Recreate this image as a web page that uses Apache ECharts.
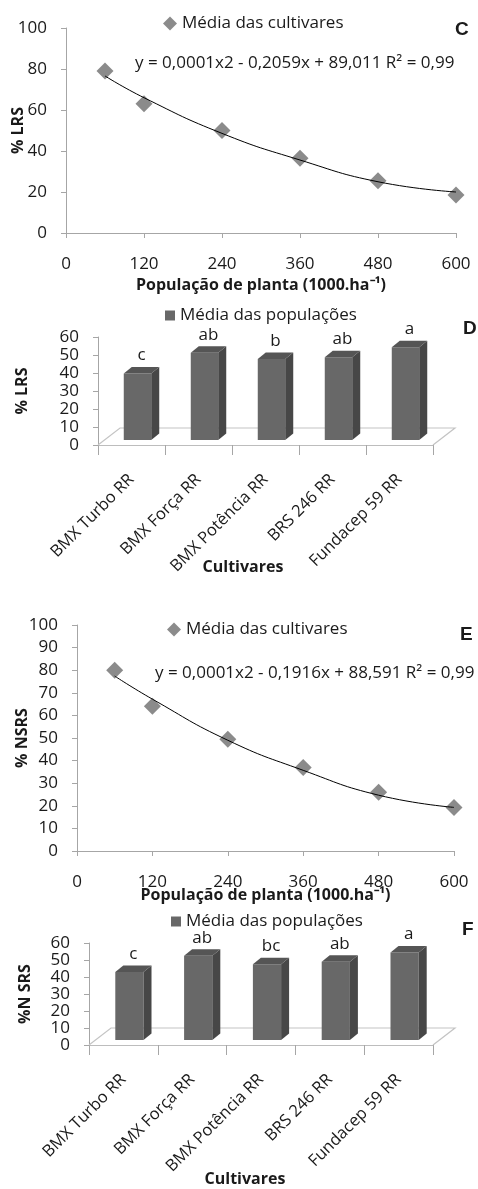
<!DOCTYPE html>
<html>
<head>
<meta charset="utf-8">
<script src="https://cdn.jsdelivr.net/npm/echarts@6/dist/echarts.min.js"></script>
<style>
  html, body { margin: 0; padding: 0; background: #fff; }
  #chart { width: 478px; height: 1189px; }
</style>
</head>
<body>
<div id="chart"></div>
<script>
// valores
const populacoes = [60, 120, 240, 360, 480, 600];
const lrsMedias = [79, 63, 50, 36.5, 25.5, 18.5];
const lrsTendencia = [76.6, 66, 48.6, 35.6, 25, 20];
const nsrsMedias = [80, 64, 49.5, 37, 26, 19.2];
const nsrsTendencia = [77.4, 67.2, 49, 35.7, 24.7, 19.3];

const cultivares = ['BMX Turbo RR', 'BMX Força RR', 'BMX Potência RR', 'BRS 246 RR', 'Fundacep 59 RR'];
const lrsCultivar = [37, 48.5, 45, 46, 51.5];
const lrsLetras = ['c', 'ab', 'b', 'ab', 'a'];
const nsrsCultivar = [40, 49.5, 44.5, 46, 51.5];
const nsrsLetras = ['c', 'ab', 'bc', 'ab', 'a'];

// eixos: [min, max, intervalo]
const popTicks = [0, 600, 120];
const pctTicks = [0, 100, 20];
const pctTicksE = [0, 100, 10];
const barTicks = [0, 60, 10];

const FONT = 'Open Sans';
const TXT = '#1a1a1a';
const AXIS = '#a6a6a6';

const chart = echarts.init(document.getElementById('chart'));

function valueAxis(gridIndex, ticks, extra) {
  return Object.assign({
    type: 'value',
    gridIndex,
    min: ticks[0],
    max: ticks[1],
    interval: ticks[2],
    splitLine: { show: false },
    axisLine: { show: true, lineStyle: { color: AXIS } },
    axisTick: { show: true, length: 5, lineStyle: { color: AXIS } },
    axisLabel: {
      color: TXT, fontFamily: FONT, fontSize: 17, margin: 19, lineHeight: 15,
      hideOverlap: false, showMinLabel: true, showMaxLabel: true,
    },
    nameTextStyle: { color: TXT, fontFamily: FONT, fontSize: 16, fontWeight: 'bold' },
    nameLocation: 'middle',
    nameMoveOverlap: false,
  }, extra);
}

function catAxis(gridIndex) {
  return {
    type: 'category',
    gridIndex,
    data: cultivares,
    axisLine: { show: true, lineStyle: { color: '#bdbdbd' } },
    axisTick: { show: true, length: 10, lineStyle: { color: AXIS } },
    axisLabel: { color: TXT, fontFamily: FONT, fontSize: 16.5, rotate: 45, margin: 32, interval: 0 },
  };
}

const SHIFT = [6, -5];
const DEPTH = [8, -6.5];

function bar3d(letras) {
  return function (params, api) {
    const i = api.value(0);
    const base = api.coord([i, 0]);
    const top = api.coord([i, api.value(1)]);
    const w = api.size([1, 0])[0] * 0.41;
    const x0 = base[0] - w / 2 + SHIFT[0];
    const yb = base[1] + SHIFT[1];
    const yt = top[1] + SHIFT[1];
    const dx = DEPTH[0];
    const dy = DEPTH[1];
    return {
      type: 'group',
      children: [
        { type: 'rect', shape: { x: x0, y: yt, width: w, height: yb - yt }, style: { fill: '#686868' } },
        {
          type: 'polygon',
          shape: { points: [[x0 + w, yt], [x0 + w + dx, yt + dy], [x0 + w + dx, yb + dy], [x0 + w, yb]] },
          style: { fill: '#474747' },
        },
        {
          type: 'polygon',
          shape: { points: [[x0, yt], [x0 + dx, yt + dy], [x0 + w + dx, yt + dy], [x0 + w, yt]] },
          style: { fill: '#555555' },
        },
        {
          type: 'text',
          x: x0 + w / 2 + dx / 2,
          y: yt + dy - 3,
          style: {
            text: letras[params.dataIndex],
            fill: TXT,
            font: '17px "Open Sans"',
            align: 'center',
            verticalAlign: 'bottom',
          },
        },
      ],
    };
  };
}

function floor(params, api) {
  const band = api.size([1, 0])[0];
  const a = api.coord([0, 0]);
  const b = api.coord([cultivares.length - 1, 0]);
  const L = a[0] - band / 2;
  const R = b[0] + band / 2;
  const y = a[1];
  return {
    type: 'polyline',
    shape: { points: [[L, y], [L + 22, y - 17], [R + 22, y - 17], [R, y]] },
    style: { stroke: '#c4c4c4', fill: null, lineWidth: 1.2 },
  };
}

function legend(name, left, top, icon) {
  const l = {
    data: [name],
    left,
    top,
    padding: 0,
    itemWidth: icon === 'rect' ? 10 : 14,
    itemHeight: icon === 'rect' ? 10 : 14,
    itemGap: 5,
    textStyle: { color: TXT, fontFamily: FONT, fontSize: 17 },
  };
  if (icon) l.icon = icon;
  return l;
}

function label(text, x, y, font, align) {
  return {
    type: 'text',
    x,
    y,
    style: { text, fill: TXT, font, align: align || 'left', verticalAlign: 'middle' },
  };
}

const option = {
  animation: false,
  backgroundColor: '#fff',
  grid: [
    { left: 66, top: 28, width: 390, height: 205, outerBoundsMode: 'none' },
    { left: 98, top: 337, width: 335, height: 108, outerBoundsMode: 'none' },
    { left: 77, top: 625, width: 377, height: 226, outerBoundsMode: 'none' },
    { left: 89, top: 943, width: 344, height: 102, outerBoundsMode: 'none' },
  ],
  legend: [
    legend('Média das cultivares', 163, 15),
    legend('Média das populações', 165, 307, 'rect'),
    legend('Média das cultivares', 167, 621),
    legend('Média das populações', 171, 913, 'rect'),
  ],
  xAxis: [
    valueAxis(0, popTicks, {
      name: 'População de planta (1000.ha⁻¹)',
      nameGap: 44,
      axisLabel: { color: TXT, fontFamily: FONT, fontSize: 17, margin: 23 },
    }),
    catAxis(1),
    valueAxis(2, popTicks, {
      name: 'População de planta (1000.ha⁻¹)',
      nameGap: 36,
      axisLabel: { color: TXT, fontFamily: FONT, fontSize: 17, margin: 23 },
    }),
    catAxis(3),
  ],
  yAxis: [
    valueAxis(0, pctTicks, { name: '% LRS', nameGap: 40 }),
    valueAxis(1, barTicks, { name: '% LRS', nameGap: 68 }),
    valueAxis(2, pctTicksE, { name: '% NSRS', nameGap: 47 }),
    valueAxis(3, barTicks, { name: '%N SRS', nameGap: 56 }),
  ],
  graphic: [
    label('y = 0,0001x2 - 0,2059x + 89,011 R² = 0,99', 135, 63, '17px "Open Sans"'),
    label('y = 0,0001x2 - 0,1916x + 88,591 R² = 0,99', 155, 673, '17px "Open Sans"'),
    label('Cultivares', 243, 567, 'bold 16px "Open Sans"', 'center'),
    label('Cultivares', 245, 1179, 'bold 16px "Open Sans"', 'center'),
    label('C', 455, 30, 'bold 19px "Liberation Sans"'),
    label('D', 463, 329, 'bold 19px "Liberation Sans"'),
    label('E', 460, 635, 'bold 19px "Liberation Sans"'),
    label('F', 462, 930, 'bold 19px "Liberation Sans"'),
  ],
  series: [
    {
      type: 'line',
      xAxisIndex: 0,
      yAxisIndex: 0,
      data: populacoes.map((p, i) => [p, lrsTendencia[i]]),
      smooth: true,
      showSymbol: false,
      lineStyle: { color: '#000', width: 1 },
      silent: true,
    },
    {
      name: 'Média das cultivares',
      type: 'scatter',
      xAxisIndex: 0,
      yAxisIndex: 0,
      symbol: 'diamond',
      symbolSize: 17,
      itemStyle: { color: '#6e6e6e' },
      data: populacoes.map((p, i) => [p, lrsMedias[i]]),
    },
    {
      type: 'custom',
      xAxisIndex: 1,
      yAxisIndex: 1,
      clip: false,
      silent: true,
      renderItem: floor,
      data: [[0, 0]],
    },
    {
      name: 'Média das populações',
      type: 'custom',
      xAxisIndex: 1,
      yAxisIndex: 1,
      clip: false,
      itemStyle: { color: '#686868' },
      renderItem: bar3d(lrsLetras),
      encode: { x: 0, y: 1 },
      data: lrsCultivar.map((v, i) => [i, v]),
    },
    {
      type: 'line',
      xAxisIndex: 2,
      yAxisIndex: 2,
      data: populacoes.map((p, i) => [p, nsrsTendencia[i]]),
      smooth: true,
      showSymbol: false,
      lineStyle: { color: '#000', width: 1 },
      silent: true,
    },
    {
      name: 'Média das cultivares',
      type: 'scatter',
      xAxisIndex: 2,
      yAxisIndex: 2,
      symbol: 'diamond',
      symbolSize: 17,
      itemStyle: { color: '#6e6e6e' },
      data: populacoes.map((p, i) => [p, nsrsMedias[i]]),
    },
    {
      type: 'custom',
      xAxisIndex: 3,
      yAxisIndex: 3,
      clip: false,
      silent: true,
      renderItem: floor,
      data: [[0, 0]],
    },
    {
      name: 'Média das populações',
      type: 'custom',
      xAxisIndex: 3,
      yAxisIndex: 3,
      clip: false,
      itemStyle: { color: '#686868' },
      renderItem: bar3d(nsrsLetras),
      encode: { x: 0, y: 1 },
      data: nsrsCultivar.map((v, i) => [i, v]),
    },
  ],
};

chart.setOption(option);
</script>
</body>
</html>
